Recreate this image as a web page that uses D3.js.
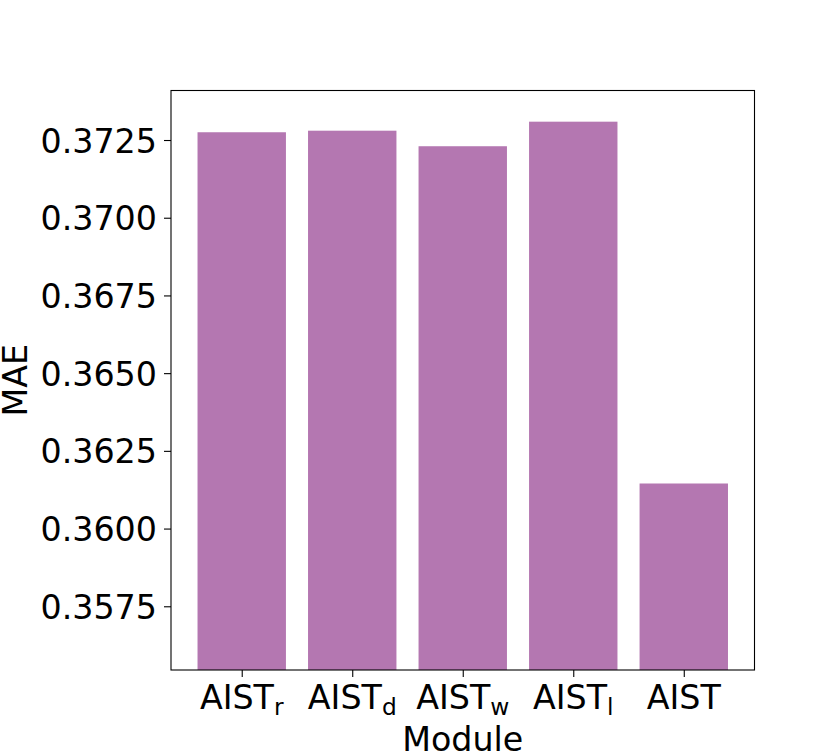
<!DOCTYPE html>
<html>
<head>
<meta charset="utf-8">
<script src="https://cdn.jsdelivr.net/npm/d3@7"></script>
<style>
  body { margin: 0; background: #fff; }
  text { font-family: "DejaVu Sans", sans-serif; fill: #000; }
</style>
</head>
<body>
<div id="chart-area"></div>
<script>
// modules on the x axis (name + subscript)
const modules = ['AIST', 'AIST', 'AIST', 'AIST', 'AIST'];
const subscripts = ['r', 'd', 'w', 'l', ''];
// MAE per module
const maeValues = [0.37275, 0.37280, 0.37230, 0.37309, 0.36145];
// y tick values
const yTicks = [0.3575, 0.3600, 0.3625, 0.3650, 0.3675, 0.3700, 0.3725];

// axes box in pixels
const margin = { left: 171, top: 90.5, right: 75.5, bottom: 83 };
const width = 830 - margin.left - margin.right;
const height = 753 - margin.top - margin.bottom;

const barColor = '#b477b1';
const fontSize = 33.3;
const tickLen = 7;
const tickPad = 7;

const svg = d3.select('#chart-area').append('svg')
    .attr('width', 830)
    .attr('height', 753);

const g = svg.append('g')
    .attr('transform', `translate(${margin.left}, ${margin.top})`);

// matplotlib-like x limits: bars of width 0.8 with 5% margin
const n = maeValues.length;
const pad = (n - 1 + 0.8) * 0.05;
const x = d3.scaleLinear()
    .domain([-0.4 - pad, n - 1 + 0.4 + pad])
    .range([0, width]);

const y = d3.scaleLinear()
    .domain([0.35545, 0.374093])
    .range([height, 0]);

// bars
g.selectAll('rect.bar')
    .data(maeValues)
    .enter().append('rect')
    .attr('class', 'bar')
    .attr('x', (d, i) => x(i - 0.4))
    .attr('width', (d, i) => x(i + 0.4) - x(i - 0.4))
    .attr('y', d => y(d))
    .attr('height', d => height - y(d))
    .attr('fill', barColor);

// y axis
const yAxis = g.append('g')
    .call(d3.axisLeft(y).tickValues(yTicks).tickFormat(d3.format('.4f'))
        .tickSize(tickLen).tickPadding(tickPad));
yAxis.select('.domain').remove();
yAxis.selectAll('line').attr('stroke', '#000').attr('stroke-width', 1.1);
yAxis.selectAll('text')
    .attr('font-size', fontSize)
    .attr('font-family', '"DejaVu Sans", sans-serif')
    .attr('dy', '0.36em');

// x axis
const xAxis = g.append('g')
    .attr('transform', `translate(0, ${height})`)
    .call(d3.axisBottom(x).tickValues(d3.range(n)).tickFormat('')
        .tickSize(tickLen));
xAxis.select('.domain').remove();
xAxis.selectAll('line').attr('stroke', '#000').attr('stroke-width', 1.1);

// x tick labels with subscripts
const xLabels = g.selectAll('text.xlab')
    .data(modules)
    .enter().append('text')
    .attr('class', 'xlab')
    .attr('x', (d, i) => x(i))
    .attr('y', height + 39)
    .attr('text-anchor', 'middle')
    .attr('font-size', fontSize);
xLabels.append('tspan').text(d => d);
xLabels.append('tspan')
    .attr('font-size', fontSize * 0.7)
    .attr('dy', 6)
    .text((d, i) => subscripts[i]);

// frame
g.append('rect')
    .attr('width', width)
    .attr('height', height)
    .attr('fill', 'none')
    .attr('stroke', '#000')
    .attr('stroke-width', 1.1);

// axis labels
g.append('text')
    .attr('x', width / 2)
    .attr('y', height + 81)
    .attr('text-anchor', 'middle')
    .attr('font-size', fontSize)
    .text('Module');

g.append('text')
    .attr('transform', `translate(${27 - margin.left}, ${height / 2}) rotate(-90)`)
    .attr('text-anchor', 'middle')
    .attr('font-size', fontSize)
    .text('MAE');
</script>
</body>
</html>
